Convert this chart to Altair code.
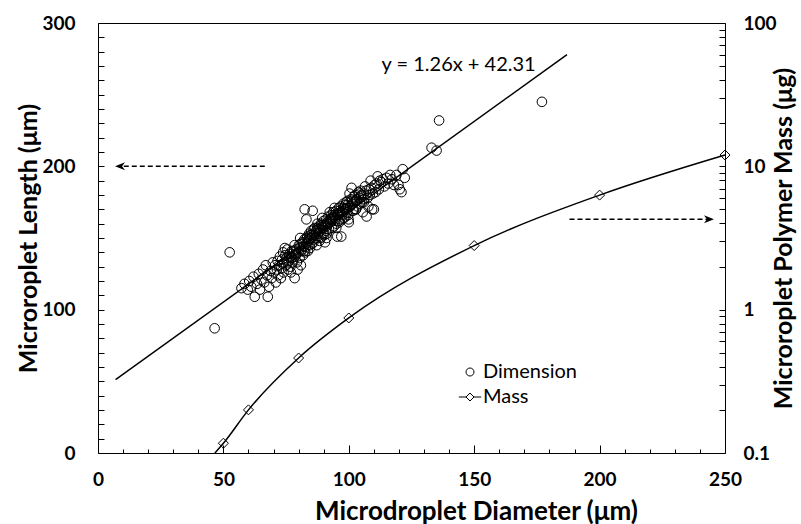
import altair as alt
import pandas as pd

# ---------------- data ----------------
diam = [
    46.5, 52.5, 57.2, 58.4, 59.7, 60.3, 61.1, 62.0, 62.5, 63.4,
    64.1, 64.6, 65.2, 65.8, 66.3, 66.9, 67.4, 67.7, 68.2, 68.8,
    69.3, 69.7, 70.2, 70.6, 70.9, 71.3, 71.6, 71.9, 72.2, 72.5,
    72.9, 73.1, 73.4, 73.8, 74.0, 74.3, 74.7, 75.0, 75.2, 75.5,
    75.8, 76.1, 76.4, 76.7, 77.0, 77.3, 77.6, 77.9, 78.1, 78.4,
    78.4, 78.8, 79.0, 79.3, 79.6, 79.9, 80.1, 80.4, 80.6, 80.9,
    81.2, 81.5, 81.8, 82.0, 82.3, 82.4, 82.6, 83.0, 83.1, 83.4,
    83.7, 84.0, 84.2, 84.5, 84.8, 85.0, 85.3, 85.6, 85.9, 86.1,
    86.4, 86.7, 87.0, 87.2, 87.5, 87.8, 88.1, 88.3, 88.6, 88.9,
    89.1, 89.4, 89.7, 90.0, 90.2, 90.5, 90.8, 91.0, 91.3, 91.6,
    91.9, 92.1, 92.4, 92.7, 93.0, 93.2, 93.5, 93.8, 94.0, 94.3,
    94.6, 94.9, 95.1, 95.4, 95.7, 96.0, 96.2, 96.5, 96.8, 97.0,
    97.3, 97.6, 97.9, 98.1, 98.4, 98.7, 99.0, 99.2, 99.5, 99.8,
    100.0, 100.3, 100.6, 100.9, 101.1, 101.4, 101.7, 102.0, 102.3, 102.6,
    102.9, 103.2, 103.5, 103.8, 104.1, 104.4, 104.7, 105.0, 105.3, 105.6,
    105.9, 106.2, 106.5, 106.8, 107.1, 107.5, 107.8, 108.1, 108.4, 108.7,
    109.0, 109.3, 109.6, 110.0, 110.3, 110.7, 111.1, 111.5, 112.0, 112.4,
    113.0, 113.6, 114.2, 115.0, 115.7, 116.5, 117.2, 118.0, 119.0, 119.8,
    120.3, 121.0, 121.5, 122.3, 133.0, 135.0, 136.0, 177.0, 74.5, 76.9,
    78.0, 81.0, 83.9, 86.9, 89.9, 92.9, 95.9, 98.9, 101.9, 104.9,
    77.4, 80.3, 82.9, 85.5, 88.4, 91.4, 94.2, 96.7, 99.6, 103.0,
    73.6, 76.3, 79.1, 81.7, 84.6, 87.4, 90.4, 93.3, 96.3, 99.3,
    80.8, 83.3, 85.2, 87.7, 89.5, 91.8, 93.9, 95.6, 97.8, 100.4,
    84.4, 86.2, 88.8, 90.9, 92.5, 94.5, 97.2, 98.6, 101.3, 104.3,
    75.6, 78.6, 82.2, 86.0, 89.0, 91.1, 95.0, 99.9, 102.8, 106.0,
]
length = [
    87, 140, 115, 118, 114, 120, 116, 123, 109, 118,
    125, 114, 121, 128, 119, 131, 124, 109, 116, 127,
    122, 133, 126, 131, 119, 128, 134, 124, 131, 137,
    122, 129, 135, 140, 126, 133, 138, 131, 136, 142,
    128, 134, 139, 130, 137, 141, 133, 135, 140, 145,
    122, 138, 142, 133, 128, 140, 145, 136, 150, 131,
    142, 147, 138, 144, 149, 170, 140, 146, 163, 151,
    141, 148, 153, 143, 150, 155, 146, 169, 147, 152,
    157, 150, 155, 145, 160, 153, 158, 148, 155, 160,
    151, 164, 157, 162, 152, 147, 158, 163, 153, 160,
    165, 156, 168, 161, 166, 157, 163, 168, 158, 171,
    164, 169, 160, 151, 166, 171, 161, 167, 172, 151,
    163, 169, 174, 164, 170, 165, 175, 171, 176, 166,
    161, 181, 172, 177, 185, 174, 169, 179, 175, 180,
    170, 177, 172, 182, 178, 174, 183, 180, 175, 168,
    181, 177, 186, 183, 165, 178, 172, 184, 180, 190,
    185, 170, 181, 170, 187, 182, 188, 193, 184, 190,
    189, 191, 186, 192, 188, 194, 191, 187, 194, 187,
    184, 182, 198, 192, 213, 211, 232, 245, 143, 126,
    141, 141, 149, 153, 153, 163, 162, 170, 170, 179,
    136, 143, 144, 151, 156, 161, 166, 168, 173, 176,
    132, 137, 139, 146, 152, 157, 159, 164, 169, 168,
    146, 150, 152, 156, 158, 160, 165, 167, 171, 172,
    145, 149, 150, 155, 163, 162, 166, 173, 176, 181,
    133, 137, 141, 156, 159, 150, 157, 163, 170, 175,
]

mass_diam = [50, 60, 80, 100, 150, 200, 250]
mass_val = [0.117, 0.20, 0.46, 0.875, 2.8, 6.3, 12.0]
curve_diam = [46.6, 50, 60, 80, 100, 150, 200, 250]
curve_val = [0.1, 0.117, 0.20, 0.46, 0.875, 2.8, 6.3, 12.0]

fit_slope = 1.26
fit_intercept = 42.31
fit_x = [7, 187]
eq_label = ["y = 1.26x + 42.31"]
eq_x = [143.8]
eq_y = [271]

arrow_dir = ["left", "right"]
arrow_y = [200, 163]
arrow_from = [66.5, 188]
arrow_to = [8.5, 244]
arrow_tip = [6.8, 245.6]

series_names = ["Dimension", "Mass"]

x_major_ticks = [0, 50, 100, 150, 200, 250]
x_minor_ticks = [10, 20, 30, 40, 60, 70, 80, 90, 110, 120, 130, 140,
                 160, 170, 180, 190, 210, 220, 230, 240]
yl_ticks = [0, 10, 20, 30, 40, 50, 60, 70, 80, 90, 100, 110, 120, 130, 140,
            150, 160, 170, 180, 190, 200, 210, 220, 230, 240, 250, 260, 270,
            280, 290, 300]
yl_labels = [0, 100, 200, 300]
yr_ticks = [0.1, 0.2, 0.3, 0.4, 0.5, 0.6, 0.7, 0.8, 0.9,
            1, 2, 3, 4, 5, 6, 7, 8, 9,
            10, 20, 30, 40, 50, 60, 70, 80, 90, 100]
yr_labels = [0.1, 1, 10, 100]

# ---------------- tables ----------------
df_sc = pd.DataFrame({"d": diam, "len": length, "series": "Dimension"})
df_mass = pd.DataFrame({"d": mass_diam, "m": mass_val})
df_curve = pd.DataFrame({"d": curve_diam, "m": curve_val})
df_fit = pd.DataFrame({"d": fit_x})
df_eq = pd.DataFrame({"d": eq_x, "len": eq_y, "t": eq_label})
df_arrow = pd.DataFrame({"dir": arrow_dir, "y": arrow_y, "x0": arrow_from,
                         "x1": arrow_to, "tip": arrow_tip})

FONT = "Lato"
CIRCLE = "M0.5,0A0.5,0.5,0,1,1,-0.5,0A0.5,0.5,0,1,1,0.5,0Z"
MASS_SYM = "M-1.4,0L-0.5,0M0.5,0L1.4,0M-0.5,0L0,-0.5L0.5,0L0,0.5Z"
HEAD_L = "M0,0L2,-0.8L1.4,0L2,0.8Z"
HEAD_R = "M0,0L-2,-0.8L-1.4,0L-2,0.8Z"

x_scale = alt.Scale(domain=[0, 250], nice=False, zero=False)
yl_scale = alt.Scale(domain=[0, 300], nice=False, zero=False)
yr_scale = alt.Scale(type="log", domain=[0.1, 100], nice=False)

lab = dict(labelFont=FONT, labelFontSize=19, labelFontWeight="bold",
           labelColor="black", labelFlush=False, labelOverlap=False)
ttl = dict(titleFont=FONT, titleFontWeight="bold", titleColor="black")

x_major = alt.Axis(orient="bottom", values=x_major_ticks, tickSize=8, offset=-8,
                   domain=False, grid=False, tickColor="black", labelPadding=17,
                   title="Microdroplet Diameter (μm)", titlePadding=9, titleX=378,
                   titleFontSize=26, **lab, **ttl)
x_minor = alt.Axis(orient="bottom", values=x_minor_ticks, tickSize=4, offset=-4,
                   domain=False, grid=False, tickColor="black", labels=False,
                   title=None)
yl_axis = alt.Axis(orient="left", values=yl_ticks, tickSize=6, offset=-6,
                   domain=False, grid=False, tickColor="black", labelPadding=23,
                   labelExpr="indexof(%s, datum.value) >= 0 ? datum.label : ''" % yl_labels,
                   title="Microroplet Length (μm)", titlePadding=0,
                   titleFontSize=25, **lab, **ttl)
yr_axis = alt.Axis(orient="right", values=yr_ticks, tickSize=6, offset=-6,
                   domain=False, grid=False, tickColor="black", labelPadding=18,
                   labelExpr="indexof(%s, datum.value) >= 0 ? format(datum.value, '~g') : ''" % yr_labels,
                   title="Microroplet Polymer Mass (μg)", titlePadding=20,
                   titleAngle=270, titleFontSize=25, **lab, **ttl)

scatter = alt.Chart(df_sc).mark_point(
    filled=False, color="black", strokeWidth=1, size=370, opacity=1
).encode(
    x=alt.X("d:Q", scale=x_scale, axis=x_major),
    y=alt.Y("len:Q", scale=yl_scale, axis=yl_axis),
    shape=alt.Shape("series:N",
                    scale=alt.Scale(domain=series_names, range=[CIRCLE, MASS_SYM]),
                    legend=alt.Legend(title=None, orient="none", legendX=362, legendY=339,
                                      symbolSize=256, symbolStrokeColor="black",
                                      symbolStrokeWidth=1, symbolFillColor="transparent",
                                      labelFont=FONT, labelFontSize=20, labelColor="black",
                                      labelOffset=3, rowPadding=5, padding=0)),
)

fit = alt.Chart(df_fit).transform_calculate(
    len=f"{fit_slope} * datum.d + {fit_intercept}"
).mark_line(color="black", strokeWidth=1.5).encode(
    x=alt.X("d:Q", scale=x_scale, axis=x_minor),
    y=alt.Y("len:Q", scale=yl_scale, axis=None),
)

arrows = alt.Chart(df_arrow).mark_rule(
    color="black", strokeWidth=1.5, strokeDash=[5, 3]
).encode(
    x=alt.X("x0:Q", scale=x_scale, axis=None),
    x2="x1:Q",
    y=alt.Y("y:Q", scale=yl_scale, axis=None),
)

head_l = alt.Chart(df_arrow).transform_filter("datum.dir == 'left'").mark_point(
    shape=HEAD_L, filled=True, color="black", size=100, opacity=1
).encode(
    x=alt.X("tip:Q", scale=x_scale, axis=None),
    y=alt.Y("y:Q", scale=yl_scale, axis=None),
)
head_r = alt.Chart(df_arrow).transform_filter("datum.dir == 'right'").mark_point(
    shape=HEAD_R, filled=True, color="black", size=100, opacity=1
).encode(
    x=alt.X("tip:Q", scale=x_scale, axis=None),
    y=alt.Y("y:Q", scale=yl_scale, axis=None),
)

eq = alt.Chart(df_eq).mark_text(font=FONT, fontSize=20, color="black").encode(
    x=alt.X("d:Q", scale=x_scale, axis=None),
    y=alt.Y("len:Q", scale=yl_scale, axis=None),
    text="t:N",
)

curve = alt.Chart(df_curve).mark_line(
    color="black", strokeWidth=1.5, interpolate="monotone"
).encode(
    x=alt.X("d:Q", scale=x_scale, axis=None),
    y=alt.Y("m:Q", scale=yr_scale, axis=yr_axis),
)
diamonds = alt.Chart(df_mass).mark_point(
    shape="diamond", filled=False, color="black", size=100, strokeWidth=1, opacity=1
).encode(
    x=alt.X("d:Q", scale=x_scale, axis=None),
    y=alt.Y("m:Q", scale=yr_scale, axis=None),
)

chart = alt.layer(
    fit, scatter, arrows, head_l, head_r, eq, curve, diamonds
).resolve_scale(y="independent").resolve_axis(x="independent", y="independent").properties(
    width=627, height=430,
    autosize=alt.AutoSizeParams(type="none"),
    padding={"left": 98, "top": 23, "right": 76, "bottom": 71},
    background="white",
).configure_view(stroke="black", strokeWidth=1)

chart.save("out.html", embed_options={"renderer": "svg", "actions": False})
